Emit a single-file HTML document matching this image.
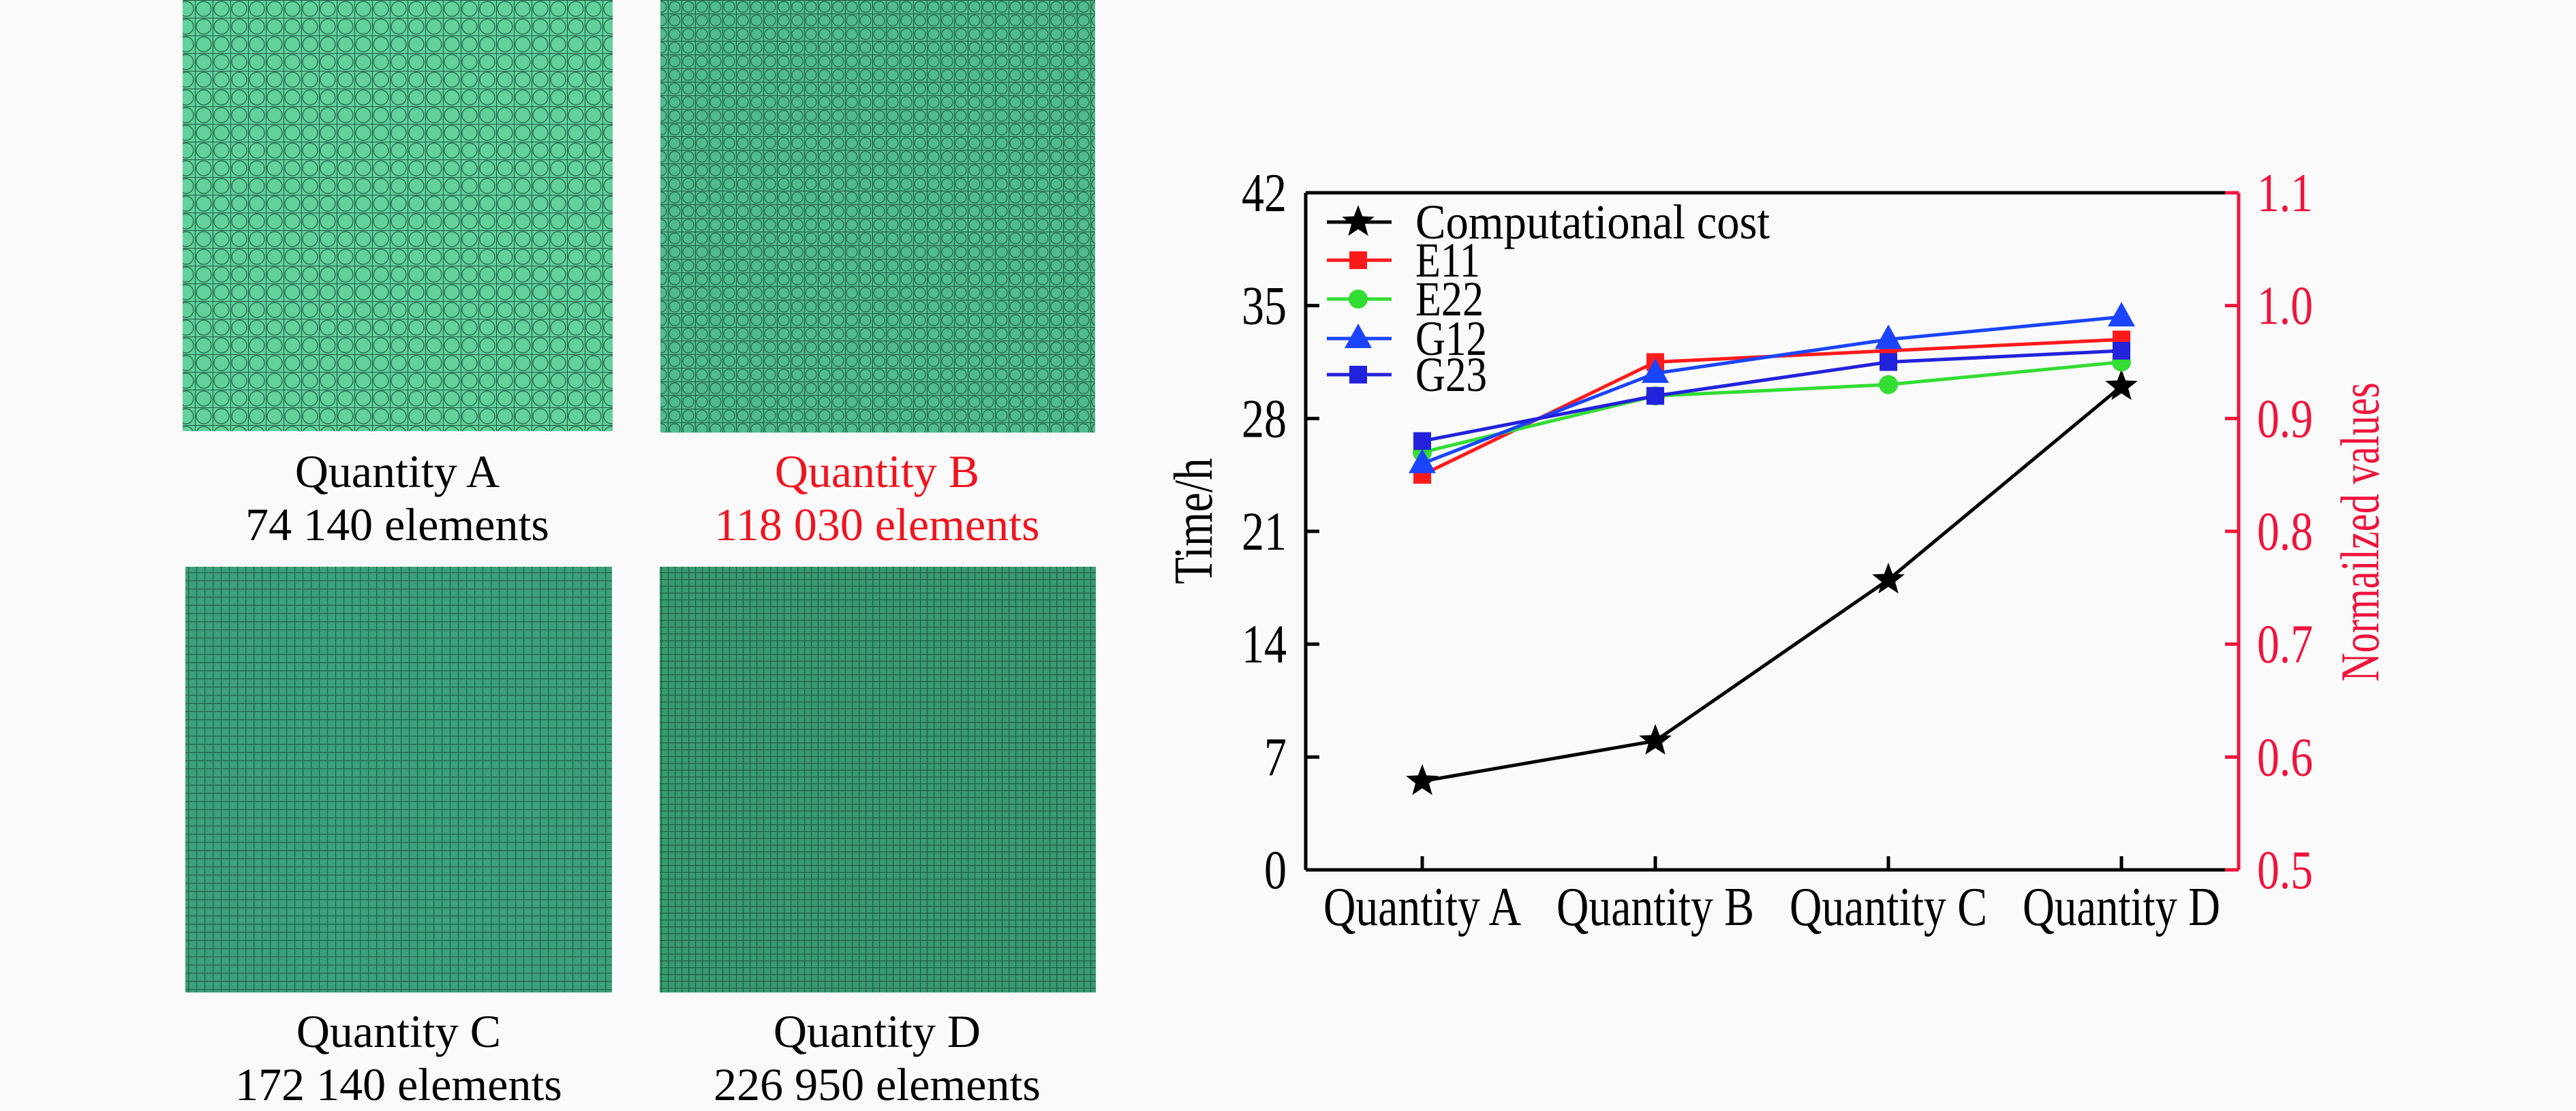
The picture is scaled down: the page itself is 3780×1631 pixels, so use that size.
<!DOCTYPE html>
<html><head><meta charset="utf-8"><style>
html,body{margin:0;padding:0;background:#fafafa;}
svg{display:block;}
text{font-family:"Liberation Serif",serif;}
</style></head><body>
<svg width="3780" height="1631" viewBox="0 0 3780 1631" xmlns="http://www.w3.org/2000/svg">
<defs>
<pattern id="meshA" width="26" height="26" patternUnits="userSpaceOnUse">
<rect width="26" height="26" fill="#62d19c"/><path d="M0 0H26M0 0V26" stroke="#1d5a40" stroke-width="2"/><circle cx="13" cy="13" r="11" fill="none" stroke="#2a7050" stroke-width="1.5"/></pattern>
<pattern id="meshB" width="20" height="20" patternUnits="userSpaceOnUse">
<rect width="20" height="20" fill="#52bb8d"/><path d="M0 0H20M0 0V20" stroke="#1c5a40" stroke-width="2"/><circle cx="10" cy="10" r="8" fill="none" stroke="#226548" stroke-width="1.2"/></pattern>
<pattern id="meshC" width="12" height="12" patternUnits="userSpaceOnUse">
<rect width="12" height="12" fill="#3da079"/><path d="M0 0H12M0 0V12" stroke="#1e6449" stroke-width="2.5"/></pattern>
<pattern id="meshD" width="10" height="10" patternUnits="userSpaceOnUse">
<rect width="10" height="10" fill="#3a9a72"/><path d="M0 0H10M0 0V10" stroke="#1d6046" stroke-width="2.5"/></pattern>
</defs>

<g>
<rect x="268" y="0" width="631" height="633" fill="url(#meshA)"/>
<rect x="969" y="0" width="638" height="635" fill="url(#meshB)"/>
<rect x="272" y="832" width="626" height="625" fill="url(#meshC)"/>
<rect x="968" y="832" width="640" height="625" fill="url(#meshD)"/>
<g font-size="68" text-anchor="middle">
<text x="583" y="715" fill="#000">Quantity A</text>
<text x="583" y="793" fill="#000">74 140 elements</text>
<text x="1287" y="715" fill="#f0141e">Quantity B</text>
<text x="1287" y="793" fill="#f0141e">118 030 elements</text>
<text x="585" y="1537" fill="#000">Quantity C</text>
<text x="585" y="1615" fill="#000">172 140 elements</text>
<text x="1287" y="1537" fill="#000">Quantity D</text>
<text x="1287" y="1615" fill="#000">226 950 elements</text>
</g>
</g>

<g id="chart"></g>
</svg>
<script>
const categories = ["Quantity A","Quantity B","Quantity C","Quantity D"];
const leftTicks = [0,7,14,21,28,35,42];
const rightTicks = ["0.5","0.6","0.7","0.8","0.9","1.0","1.1"];
const costValues = [5.5, 8.0, 18.0, 30.0];
const e11Values = [0.85, 0.95, 0.96, 0.97];
const e22Values = [0.87, 0.92, 0.93, 0.95];
const g12Values = [0.86, 0.94, 0.97, 0.99];
const g23Values = [0.88, 0.92, 0.95, 0.96];

const NS = "http://www.w3.org/2000/svg";
const g = document.getElementById("chart");
const L = 1916, R = 3285, T = 283, B = 1277;
const xPos = i => 2087 + i * 342;
const yLeft = v => B - (v - 0) / 42 * (B - T);
const yRight = v => B - (v - 0.5) / 0.6 * (B - T);
function mk(tag, attrs, parent) {
  const e = document.createElementNS(NS, tag);
  for (const k in attrs) e.setAttribute(k, attrs[k]);
  (parent || g).appendChild(e);
  return e;
}
let e;
e = mk("line", {x1:L, y1:T, x2:L, y2:B, stroke:"#000", "stroke-width":5});


e = mk("line", {x1:L, y1:T, x2:R, y2:T, stroke:"#000", "stroke-width":5});


e = mk("line", {x1:L, y1:B, x2:R, y2:B, stroke:"#000", "stroke-width":5});


e = mk("line", {x1:R, y1:T, x2:R, y2:B, stroke:"#f0143c", "stroke-width":5});



leftTicks.forEach(v => {
  const y = yLeft(v);
  e = mk("line", {x1:L, y1:y, x2:L+20, y2:y, stroke:"#000", "stroke-width":5});
  
  
  const s = String(v);
  e = mk("text", {x:1888, y:y+27, "font-size":80, "text-anchor":"end", fill:"#000", textLength:s.length*33, lengthAdjust:"spacingAndGlyphs"});
  e.textContent = s;
  
  
});
rightTicks.forEach(t => {
  const y = yRight(parseFloat(t));
  e = mk("line", {x1:R-20, y1:y, x2:R, y2:y, stroke:"#f0143c", "stroke-width":5});
  
  
  e = mk("text", {x:3312, y:y+27, "font-size":80, fill:"#f0143c", textLength:82, lengthAdjust:"spacingAndGlyphs"});
  e.textContent = t;
  
  
});
categories.forEach((c, i) => {
  const x = xPos(i);
  e = mk("line", {x1:x, y1:B, x2:x, y2:B-20, stroke:"#000", "stroke-width":5});
  
  
  e = mk("text", {x:x, y:1358, "font-size":80, "text-anchor":"middle", fill:"#000", textLength:290, lengthAdjust:"spacingAndGlyphs"});
  e.textContent = c;
  
  
});
e = mk("text", {x:0, y:0, "font-size":80, "text-anchor":"middle", fill:"#000", transform:"translate(1778,765) rotate(-90)", textLength:185, lengthAdjust:"spacingAndGlyphs"});
e.textContent = "Time/h";


e = mk("text", {x:0, y:0, "font-size":80, "text-anchor":"middle", fill:"#f0143c", transform:"translate(3490,781) rotate(-90)", textLength:439, lengthAdjust:"spacingAndGlyphs"});
e.textContent = "Normailzed values";



function star(cx, cy, r, color, parent) {
  let pts = [];
  for (let k = 0; k < 10; k++) {
    const a = -Math.PI/2 + k*Math.PI/5, rr = k%2 ? r*0.42 : r;
    pts.push((cx+rr*Math.cos(a)).toFixed(1)+","+(cy+rr*Math.sin(a)).toFixed(1));
  }
  return mk("polygon", {points:pts.join(" "), fill:color}, parent);
}
function marker(type, cx, cy, color, parent) {
  if (type === "star") return star(cx, cy, 25, color, parent);
  if (type === "square") return mk("rect", {x:cx-13, y:cy-13, width:26, height:26, fill:color}, parent);
  if (type === "circle") return mk("circle", {cx:cx, cy:cy, r:14, fill:color}, parent);
  return mk("polygon", {points:`${cx},${cy-22} ${cx-20},${cy+14} ${cx+20},${cy+14}`, fill:color}, parent);
}
const series = [
  {name:"cost", vals:costValues, color:"#000", type:"star", y:yLeft},
  {name:"e11", vals:e11Values, color:"#ff1a1a", type:"square", y:yRight},
  {name:"e22", vals:e22Values, color:"#33dd33", type:"circle", y:yRight},
  {name:"g12", vals:g12Values, color:"#1a44ff", type:"triangle", y:yRight},
  {name:"g23", vals:g23Values, color:"#2222dd", type:"square", y:yRight}
];
series.forEach(s => {
  const grp = mk("g", {});
  
  
  const pts = s.vals.map((v, i) => xPos(i)+","+s.y(v)).join(" ");
  const pl = mk("polyline", {points:pts, fill:"none", stroke:s.color, "stroke-width":5}, grp);
  
  
  s.vals.forEach((v, i) => {
    const m = marker(s.type, xPos(i), s.y(v), s.color, grp);
    
    
  });
});
const legendLabels = ["Computational cost","E11","E22","G12","G23"];
const legendY = [326, 382, 439, 497, 550];
const legendW = [520, 95, 100, 105, 105];
series.forEach((s, i) => {
  const lg = mk("g", {});
  
  
  mk("line", {x1:1947, y1:legendY[i], x2:2042, y2:legendY[i], stroke:s.color, "stroke-width":5}, lg);
  marker(s.type, 1993, legendY[i], s.color, lg);
  const t = mk("text", {x:2077, y:legendY[i]+24, "font-size":72, fill:"#000", textLength:legendW[i], lengthAdjust:"spacingAndGlyphs"}, lg);
  t.textContent = legendLabels[i];
});
</script>
</body></html>
